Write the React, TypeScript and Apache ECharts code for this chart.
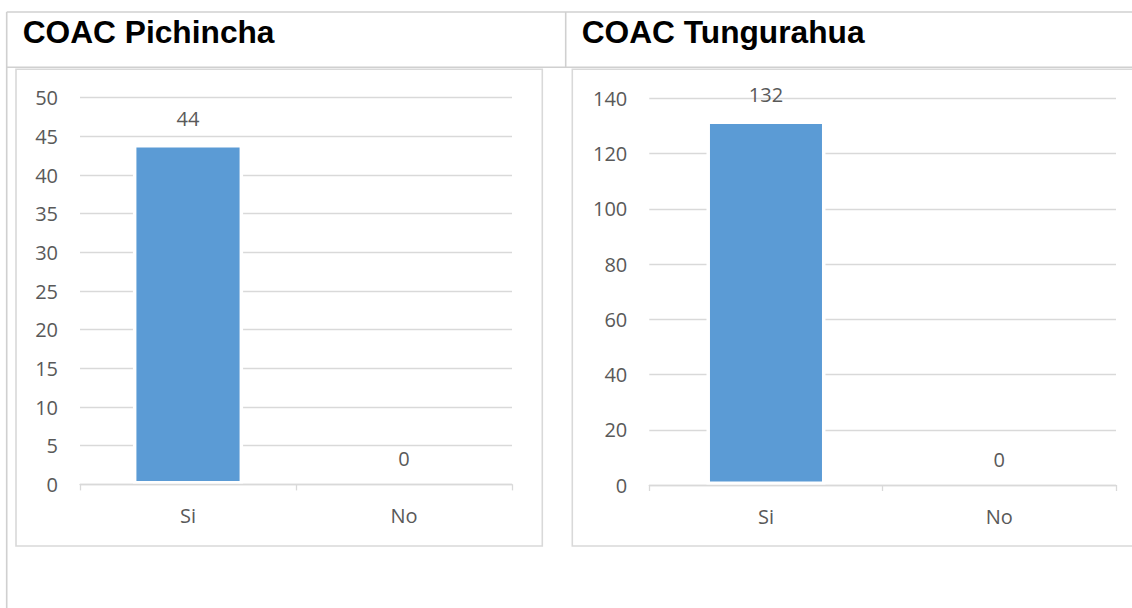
import React, { useEffect, useRef } from "react";
import * as echarts from "echarts";

const categories = ["Si", "No"];
const pichinchaValues = [44, 0];
const tungurahuaValues = [132, 0];
const titles = ["COAC Pichincha", "COAC Tungurahua"];

const W = 1132;
const H = 608;
const AXIS_FONT = "'Open Sans', 'Noto Sans', sans-serif";
const TEXT_COLOR = "#595959";
const LINE_COLOR = "#d9d9d9";
const TABLE_COLOR = "#d0d0d0";
const BAR_COLOR = "#5b9bd5";
const FS = 20;

function barData(values: number[]) {
  return values.map((v) => ({
    value: v,
    itemStyle: v === 0 ? { borderWidth: 0 } : undefined,
  }));
}

function xAxisFor(gridIndex: number) {
  return {
    type: "category",
    gridIndex,
    data: categories,
    z: 3,
    axisLine: { show: true, lineStyle: { color: LINE_COLOR, width: 1.3 } },
    axisTick: { show: true, length: 6, lineStyle: { color: LINE_COLOR, width: 1.3 } },
    axisLabel: { color: TEXT_COLOR, fontSize: FS, fontFamily: AXIS_FONT, margin: 21 },
    splitLine: { show: false },
  };
}

function yAxisFor(gridIndex: number, max: number, interval: number) {
  return {
    type: "value",
    gridIndex,
    min: 0,
    max,
    interval,
    axisLine: { show: false },
    axisTick: { show: false },
    axisLabel: { color: TEXT_COLOR, fontSize: FS, fontFamily: AXIS_FONT, margin: 22 },
    splitLine: { show: true, lineStyle: { color: LINE_COLOR, width: 1.3 } },
  };
}

function seriesFor(index: number, values: number[]) {
  return {
    type: "bar",
    xAxisIndex: index,
    yAxisIndex: index,
    data: barData(values),
    barWidth: "51%",
    itemStyle: { color: BAR_COLOR, borderColor: "#ffffff", borderWidth: 3.5 },
    label: {
      show: true,
      position: "top",
      distance: 15.5,
      color: TEXT_COLOR,
      fontSize: FS,
      fontFamily: AXIS_FONT,
    },
  };
}

export default function App() {
  const ref = useRef<HTMLDivElement>(null);

  useEffect(() => {
    if (!ref.current) return;
    const chart = echarts.init(ref.current, null, { renderer: "svg" });
    const tableLine = (x1: number, y1: number, x2: number, y2: number) => ({
      type: "line",
      shape: { x1, y1, x2, y2 },
      style: { stroke: TABLE_COLOR, lineWidth: 1.6 },
      silent: true,
    });
    const titleText = (x: number, text: string) => ({
      type: "text",
      x,
      y: 31.7,
      style: {
        text,
        fill: "#000000",
        font: "bold 31.7px 'Liberation Sans', Arial, sans-serif",
        textVerticalAlign: "middle",
        verticalAlign: "middle",
      },
    });
    chart.setOption({
      animation: false,
      backgroundColor: "#ffffff",
      grid: [
        { left: 80, right: W - 512, top: 97.7, bottom: H - 484.4 },
        { left: 649.3, right: W - 1116, top: 98.3, bottom: H - 485 },
      ],
      xAxis: [xAxisFor(0), xAxisFor(1)],
      yAxis: [yAxisFor(0, 50, 5), yAxisFor(1, 140, 20)],
      series: [seriesFor(0, pichinchaValues), seriesFor(1, tungurahuaValues)],
      graphic: [
        tableLine(6.7, 12, W, 12),
        tableLine(6.7, 12, 6.7, H),
        tableLine(6.7, 67.3, W, 67.3),
        tableLine(565.7, 12, 565.7, 67.3),
        {
          type: "rect",
          shape: { x: 16, y: 69.3, width: 526.3, height: 476.7 },
          style: { fill: "none", stroke: LINE_COLOR, lineWidth: 1.6 },
          silent: true,
        },
        {
          type: "rect",
          shape: { x: 572.3, y: 69.3, width: W - 572.3 + 20, height: 476.7 },
          style: { fill: "none", stroke: LINE_COLOR, lineWidth: 1.6 },
          silent: true,
        },
        titleText(22.7, titles[0]),
        titleText(581.7, titles[1]),
      ],
    });
    return () => chart.dispose();
  }, []);

  return (
    <div
      ref={ref}
      style={{ position: "absolute", left: 0, top: 0, width: W, height: H }}
    />
  );
}
